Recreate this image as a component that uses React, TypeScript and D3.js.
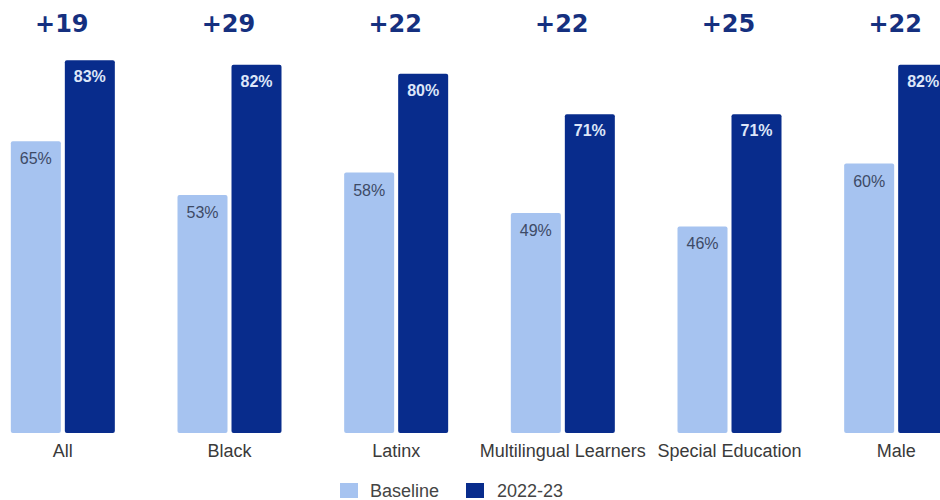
import React from "react";
import * as d3 from "d3";

const categories = ["All", "Black", "Latinx", "Multilingual Learners", "Special Education", "Male"];
const baseline = [65, 53, 58, 49, 46, 60];
const current = [83, 82, 80, 71, 71, 82];
const diffs = ["+19", "+29", "+22", "+22", "+25", "+22"];
const seriesNames = ["Baseline", "2022-23"];

const W = 940;
const H = 500;
const LIGHT = "#a6c3f0";
const DARK = "#082c8c";
const SANS = "'Liberation Sans', Arial, sans-serif";

export default function App() {
  const x = d3.scaleBand<string>().domain(categories).range([-20.5, 979.5]).paddingInner(0).paddingOuter(0);
  const barW = 50;
  const gap = 4;
  const y = d3.scaleLinear().domain([0, 100]).range([433, -16]);

  return (
    <div style={{ position: "absolute", left: 0, top: 0, width: W, height: H, overflow: "hidden" }}>
      <svg width={W} height={H} style={{ display: "block", background: "#fff" }}>
        {categories.map((c, i) => {
          const cx = (x(c) as number) + x.bandwidth() / 2;
          const bx = cx - gap / 2 - barW;
          const dx = cx + gap / 2;
          return (
            <g key={c}>
              <text x={cx - 1} y={32} textAnchor="middle" fontFamily="'DejaVu Sans', sans-serif" fontWeight={700} fontSize={24} fill="#15307f">
                {diffs[i]}
              </text>
              <rect x={bx} y={y(baseline[i])} width={barW} height={y(0) - y(baseline[i])} fill={LIGHT} rx={2} />
              <rect x={dx} y={y(current[i])} width={barW} height={y(0) - y(current[i])} fill={DARK} rx={2} />
              <text x={bx + barW / 2} y={y(baseline[i]) + 23} textAnchor="middle" fontFamily={SANS} fontSize={16} fill="#3d4a66">
                {baseline[i]}%
              </text>
              <text x={dx + barW / 2} y={y(current[i]) + 22} textAnchor="middle" fontFamily={SANS} fontWeight={700} fontSize={16} fill="#dde6f8">
                {current[i]}%
              </text>
              <text x={cx} y={457} textAnchor="middle" fontFamily={SANS} fontSize={18} fill="#3a3a3a">
                {c}
              </text>
            </g>
          );
        })}
        <g>
          <rect x={340} y={483} width={18} height={15} fill={LIGHT} />
          <text x={370} y={497} fontFamily={SANS} fontSize={18} fill="#444">{seriesNames[0]}</text>
          <rect x={466} y={483} width={18} height={15} fill={DARK} />
          <text x={497} y={497} fontFamily={SANS} fontSize={18} fill="#444">{seriesNames[1]}</text>
        </g>
      </svg>
    </div>
  );
}
